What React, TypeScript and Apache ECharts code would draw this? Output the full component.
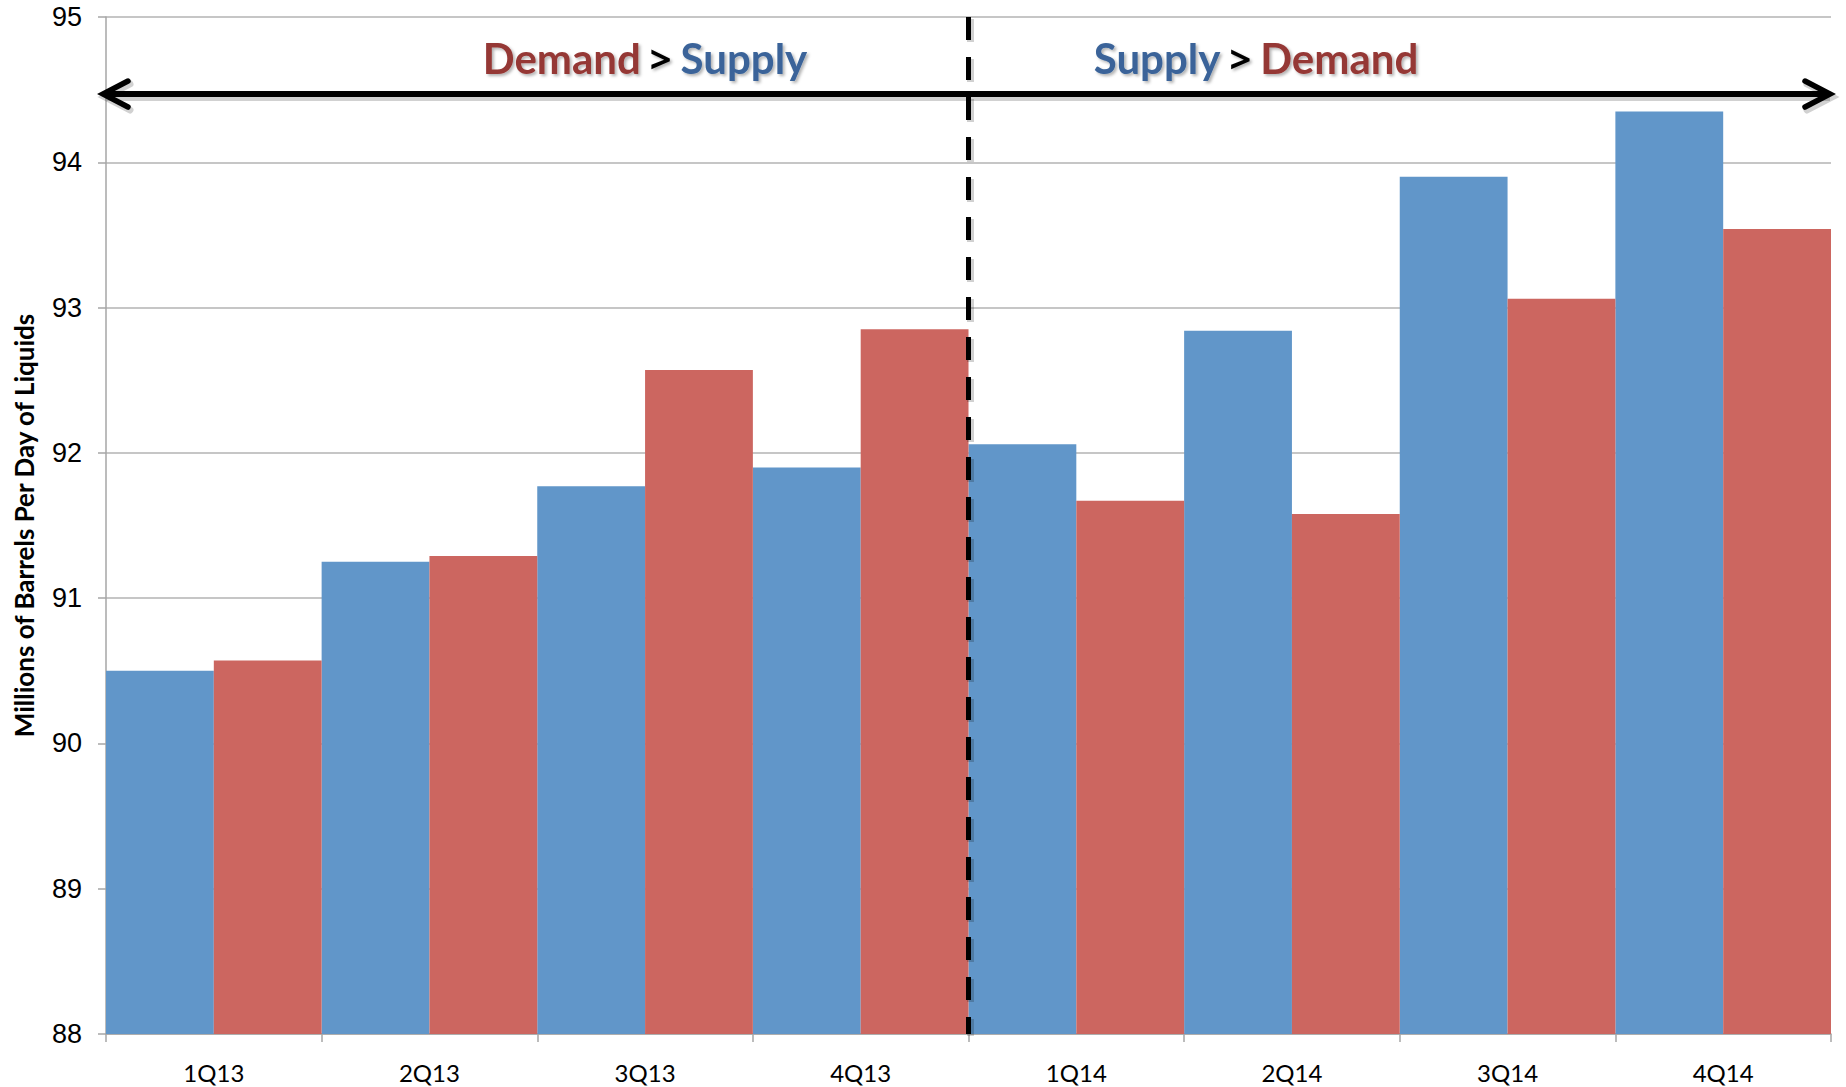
import React, { useEffect, useRef } from "react";
import * as echarts from "echarts";

const categories = ["1Q13", "2Q13", "3Q13", "4Q13", "1Q14", "2Q14", "3Q14", "4Q14"];
const supply = [90.5, 91.25, 91.77, 91.9, 92.06, 92.84, 93.9, 94.35];
const demand = [90.57, 91.29, 92.57, 92.85, 91.67, 91.58, 93.06, 93.54];
const yMin = 88;
const yMax = 95;
const yInterval = 1;
const axisTitle = "Millions of Barrels Per Day of Liquids";

const W = 1846;
const H = 1087;
const GL = 106;
const GR = 15;
const GT = 17;
const GB = 53;

export default function App() {
  const ref = useRef<HTMLDivElement>(null);
  useEffect(() => {
    const chart = echarts.init(ref.current!, null, { renderer: "svg", width: W, height: H });
    const plotW = W - GL - GR;
    const plotH = H - GT - GB;
    const catW = plotW / categories.length;
    const divX = GL + catW * 4;
    const arrowY = GT + ((yMax - 94.47) / (yMax - yMin)) * plotH;
    const xL = GL - 3;
    const xR = W - GR - 1;
    const shadowCol = "rgba(0,0,0,0.18)";
    const rich = (c: string) => ({
      fill: c,
      color: c,
      fontFamily: "Lato",
      fontWeight: "bold" as const,
      fontSize: 42,
      textShadowColor: "rgba(0,0,0,0.3)",
      textShadowBlur: 3,
      textShadowOffsetX: 2,
      textShadowOffsetY: 2,
    });
    const richSet = {
      d: rich("#953735"),
      s: rich("#3A6499"),
      g: { ...rich("#000000"), fontFamily: "Open Sans", fontSize: 38, padding: [0, 9, 0, 9] },
    };
    const chevron = (tipX: number, dir: number) => ({
      type: "polyline",
      z: 100,
      shape: {
        points: [
          [tipX + dir * 25, arrowY - 13],
          [tipX, arrowY],
          [tipX + dir * 25, arrowY + 13],
        ],
      },
      style: { stroke: "#000", lineWidth: 5.5, fill: "none", lineCap: "round", lineJoin: "miter" },
    });
    const chevronShadow = (tipX: number, dir: number) => ({
      type: "polyline",
      z: 99,
      shape: {
        points: [
          [tipX + dir * 25 + 2, arrowY - 13 + 3],
          [tipX + 2, arrowY + 3],
          [tipX + dir * 25 + 2, arrowY + 13 + 3],
        ],
      },
      style: { stroke: shadowCol, lineWidth: 7, fill: "none", lineCap: "round" },
    });
    chart.setOption({
      animation: false,
      backgroundColor: "#ffffff",
      grid: { left: GL, right: GR, top: GT, bottom: GB, containLabel: false, outerBoundsMode: "none" },
      xAxis: {
        type: "category",
        data: categories,
        axisLine: { show: true, lineStyle: { color: "#A6A6A6", width: 1.5 } },
        axisTick: { show: true, length: 8, lineStyle: { color: "#A6A6A6", width: 1.5 } },
        axisLabel: { fontFamily: "Lato", fontSize: 24, color: "#000", margin: 26 },
      },
      yAxis: {
        type: "value",
        min: yMin,
        max: yMax,
        interval: yInterval,
        name: axisTitle,
        nameLocation: "middle",
        nameGap: 69,
        nameTextStyle: { fontFamily: "Lato", fontWeight: "bold", fontSize: 26, color: "#000" },
        axisLine: { show: true, lineStyle: { color: "#A6A6A6", width: 1.5 } },
        axisTick: { show: true, length: 8, lineStyle: { color: "#A6A6A6", width: 1.5 } },
        axisLabel: { fontFamily: "Liberation Sans", fontSize: 27, color: "#000", margin: 24 },
        splitLine: { show: true, lineStyle: { color: "#B3B3B3", width: 1.5 } },
      },
      series: [
        {
          name: "Supply",
          type: "bar",
          data: supply,
          barGap: "0%",
          barCategoryGap: "0%",
          itemStyle: { color: "#6196C9" },
        },
        {
          name: "Demand",
          type: "bar",
          data: demand,
          barGap: "0%",
          barCategoryGap: "0%",
          itemStyle: { color: "#CC6660" },
        },
      ],
      graphic: [
        {
          type: "line",
          z: 99,
          shape: { x1: divX + 2, y1: GT + 2, x2: divX + 2, y2: H - GB + 2 },
          style: { stroke: shadowCol, lineWidth: 7, lineDash: [23, 17] },
        },
        {
          type: "line",
          z: 100,
          shape: { x1: divX, y1: GT, x2: divX, y2: H - GB },
          style: { stroke: "#000", lineWidth: 5, lineDash: [23, 17] },
        },
        {
          type: "line",
          z: 99,
          shape: { x1: xL + 4, y1: arrowY + 3, x2: xR, y2: arrowY + 3 },
          style: { stroke: shadowCol, lineWidth: 8 },
        },
        {
          type: "line",
          z: 100,
          shape: { x1: xL + 2, y1: arrowY, x2: xR - 2, y2: arrowY },
          style: { stroke: "#000", lineWidth: 6 },
        },
        chevronShadow(xL, 1),
        chevronShadow(xR, -1),
        chevron(xL, 1),
        chevron(xR, -1),
        {
          type: "text",
          z: 100,
          x: 645,
          y: 58,
          style: {
            text: "{d|Demand}{g|>}{s|Supply}",
            rich: richSet,
            align: "center",
            verticalAlign: "middle",
          },
        },
        {
          type: "text",
          z: 100,
          x: 1256,
          y: 58,
          style: {
            text: "{s|Supply}{g|>}{d|Demand}",
            rich: richSet,
            align: "center",
            verticalAlign: "middle",
          },
        },
      ],
    });
    return () => chart.dispose();
  }, []);
  return (
    <div
      ref={ref}
      style={{ position: "fixed", left: 0, top: 0, width: W, height: H, background: "#fff" }}
    />
  );
}
